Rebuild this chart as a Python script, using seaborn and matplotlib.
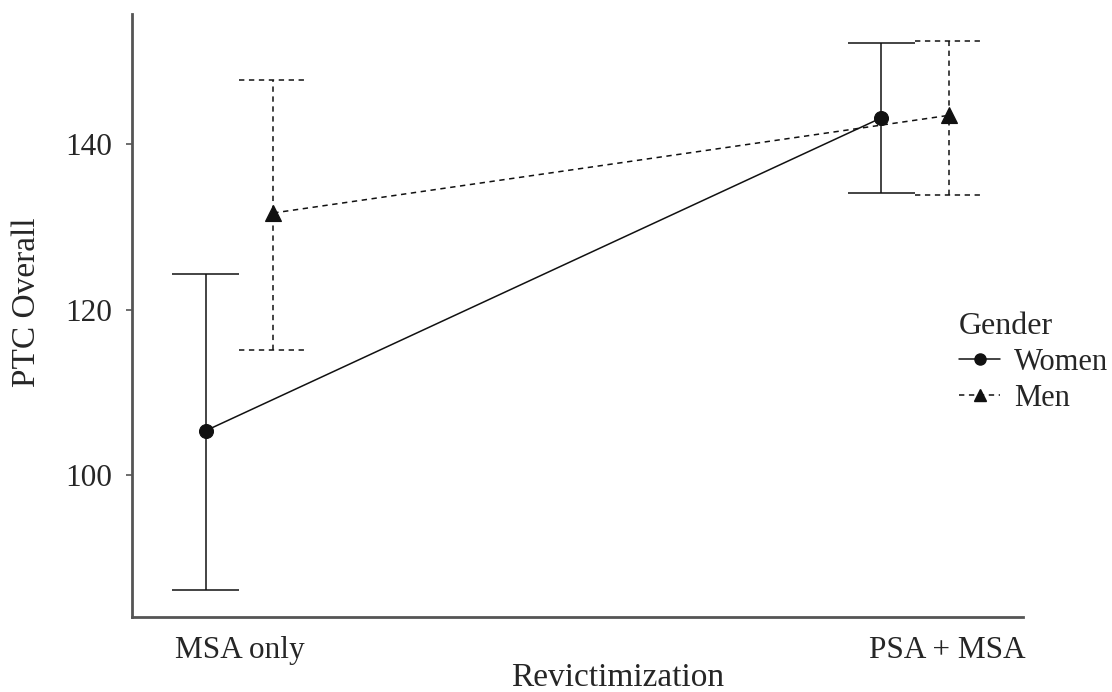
import matplotlib
matplotlib.use("Agg")
import matplotlib.pyplot as plt
import matplotlib.transforms as mtransforms
from matplotlib.lines import Line2D
import pandas as pd
import seaborn as sns

# values
revictimization = ["MSA only", "PSA + MSA"]
genders = ["Women", "Men"]
women_mean = [105.4, 143.2]
women_low = [86.2, 134.1]
women_high = [124.3, 152.2]
men_mean = [131.7, 143.5]
men_low = [115.2, 133.9]
men_high = [147.8, 152.5]
y_ticks = [100, 120, 140]

sns.set_theme(style="ticks")
plt.rcParams["font.family"] = ["Liberation Serif", "DejaVu Serif"]

df = pd.DataFrame({
    "Revictimization": revictimization * 2,
    "Gender": ["Women"] * 2 + ["Men"] * 2,
    "PTC": women_mean + men_mean,
})

ink = "#111111"
dash = (0, (3.5, 3))
dodge = 0.1
offsets = [-dodge / 2, dodge / 2]
cap = 0.05

fig = plt.figure(figsize=(11.12, 6.92), dpi=100)
ax = fig.add_axes([0.1187, 0.1084, 0.801, 0.8709])

sns.pointplot(
    data=df, x="Revictimization", y="PTC", hue="Gender",
    order=revictimization, hue_order=genders,
    palette=[ink, ink], markers=["o", "^"], linestyles=["-", "--"],
    dodge=dodge, errorbar=None, ax=ax, legend=False,
    markersize=10, linewidth=1.1,
)
for line in ax.lines:
    if line.get_marker() == "^":
        line.set_markersize(12)
        line.set_linestyle(dash)

# error bars, drawn from the arrays above
groups = [(women_low, women_high, "-", offsets[0]),
          (men_low, men_high, dash, offsets[1])]
for low, high, ls, off in groups:
    xs = [i + off for i in range(len(revictimization))]
    ax.vlines(xs, low, high, colors=ink, linestyles=ls, linewidth=1.1, zorder=1)
    for x, lo, hi in zip(xs, low, high):
        ax.hlines([lo, hi], x - cap, x + cap, colors=ink, linestyles=ls,
                  linewidth=1.1, zorder=1)

ax.set_xlim(-0.159, 1.159)
ax.set_ylim(82.9, 155.7)
ax.set_yticks(y_ticks)
ax.tick_params(axis="y", labelsize=22.5, length=4, width=1.2, color="#555555", pad=10)
ax.tick_params(axis="x", labelsize=22.5, length=0, pad=14)
ax.set_xlabel("Revictimization", fontsize=24)
ax.set_ylabel("PTC Overall", fontsize=24)
ax.xaxis.set_label_coords(0.545, -0.076)
ax.yaxis.set_label_coords(-0.101, 0.522)

# second category label sits a bit right of its tick in the reference
lbl = ax.get_xticklabels()[1]
lbl.set_transform(lbl.get_transform() + mtransforms.ScaledTranslation(0.32, 0, fig.dpi_scale_trans))

for side in ["top", "right"]:
    ax.spines[side].set_visible(False)
for side in ["left", "bottom"]:
    ax.spines[side].set_color("#555555")
    ax.spines[side].set_linewidth(2)

handles = [
    Line2D([], [], color=ink, linestyle="-", marker="o", markersize=8, linewidth=1.1),
    Line2D([], [], color=ink, linestyle=dash, marker="^", markersize=9, linewidth=1.1),
]
leg = ax.legend(
    handles, genders, title="Gender", loc="upper left",
    bbox_to_anchor=(947 / 1112, 1 - 300 / 692), bbox_transform=fig.transFigure,
    frameon=False, fontsize=22, title_fontsize=23, handlelength=1.35,
    handletextpad=0.45, labelspacing=0.22, borderaxespad=0, alignment="left",
)

fig.savefig("out.png", dpi=100)
